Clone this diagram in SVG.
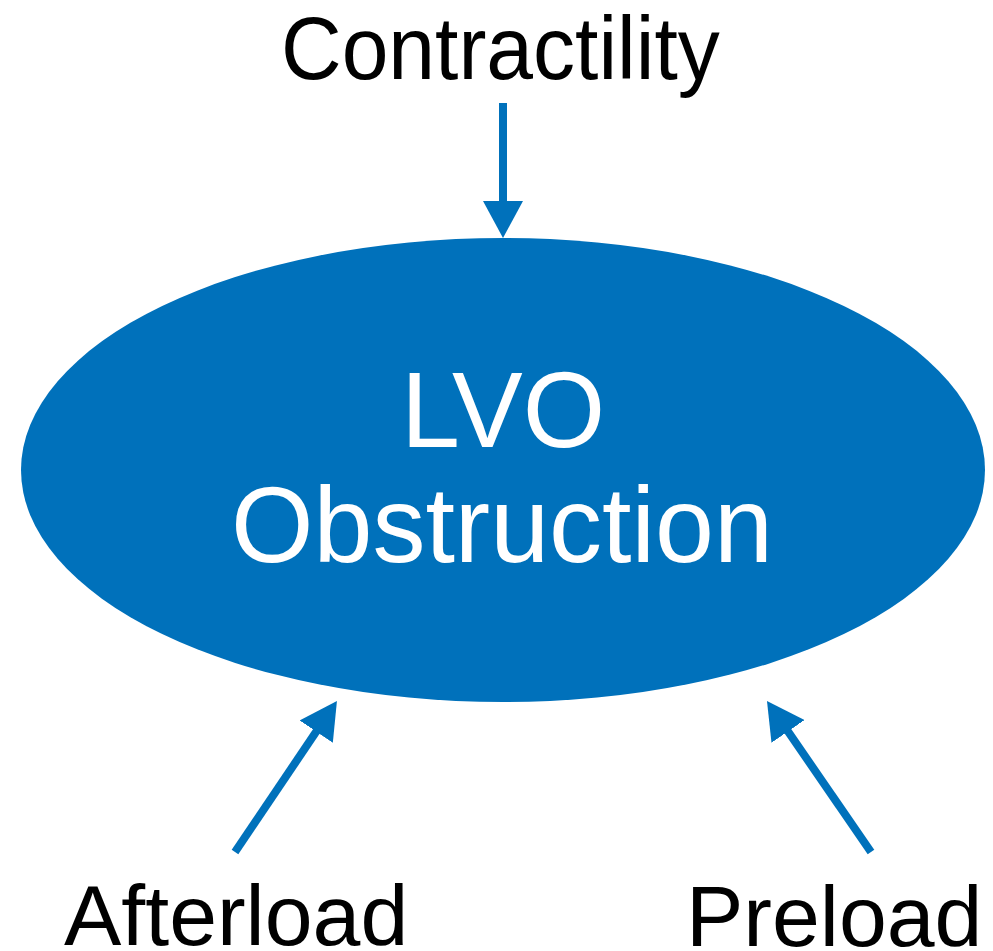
<svg xmlns="http://www.w3.org/2000/svg" width="993" height="951" viewBox="0 0 993 951">
<style>
.lbl{font-family:"Liberation Sans",Arial,sans-serif;fill:#000}
.in{font-family:"Liberation Sans",Arial,sans-serif;fill:#fff}
.conn{stroke:#0071BB;stroke-width:8;fill:none}
</style>
<defs>
<marker id="ah" markerUnits="userSpaceOnUse" markerWidth="37" markerHeight="40" refX="1" refY="20" orient="auto" viewBox="0 0 37 40">
<path d="M0,0 L37,20 L0,40 Z" fill="#0071BB"/>
</marker>
</defs>
<rect width="993" height="951" fill="#fff"/>
<g id="lvo">
<ellipse cx="503" cy="470" rx="482" ry="232" fill="#0071BB"/>
<text class="in" text-anchor="middle" font-size="106" transform="translate(503,447) scale(1,1.02)">LVO</text>
<text class="in" text-anchor="middle" font-size="106" transform="translate(502,562) scale(1,1.02)">Obstruction</text>
</g>
<g id="contractility">
<text class="lbl" font-size="84" transform="translate(281,79) scale(1,1.05)">Contractility</text>
</g>
<g id="afterload">
<text class="lbl" font-size="86" x="64" y="945">Afterload</text>
</g>
<g id="preload">
<text class="lbl" font-size="86" x="686" y="946">Preload</text>
</g>
<g id="connectors">
<line class="conn" x1="503" y1="103" x2="503" y2="202" marker-end="url(#ah)"/>
<line class="conn" x1="235" y1="852" x2="316.8" y2="730.8" marker-end="url(#ah)"/>
<line class="conn" x1="871" y1="852" x2="787.4" y2="730.6" marker-end="url(#ah)"/>
</g>
</svg>
